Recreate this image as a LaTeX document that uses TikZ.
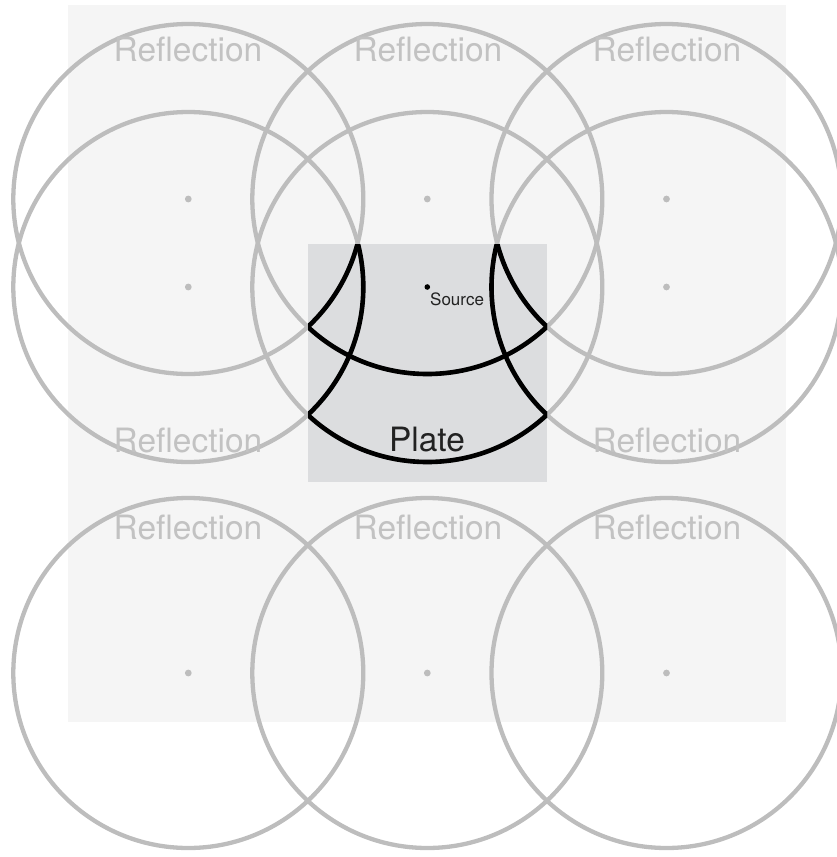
\documentclass[tikz,border=0pt]{standalone}
\usepackage{fontspec}
\setmainfont{TeX Gyre Heros}
\definecolor{bgc}{HTML}{F5F5F5}
\definecolor{platec}{HTML}{DCDDDF}
\definecolor{ringc}{HTML}{BDBDBD}
\definecolor{labc}{HTML}{C2C2C2}
\definecolor{darktext}{HTML}{222222}
\tikzset{
  ring/.style={draw=ringc, line width=4.3pt},
  edgearc/.style={draw=black, line width=4.6pt},
  refl/.style={text=labc, inner sep=0pt, anchor=base, font=\fontsize{33.5}{40}\selectfont},
  centerdot/.style={fill=ringc},
}
\begin{document}
\begin{tikzpicture}[x=1pt,y=-1pt]
\useasboundingbox (0,0) rectangle (837,857);
% background and plate
\fill[bgc] (68,5) rectangle (786,722);
\fill[platec] (308,244) rectangle (547,482);
% centres
\coordinate (a1) at (188.3,199);
\coordinate (a2) at (427.3,199);
\coordinate (a3) at (666.5,199);
\coordinate (b1) at (188.3,287);
\coordinate (src) at (427.3,287);
\coordinate (b3) at (666.5,287);
\coordinate (c1) at (188.3,673);
\coordinate (c2) at (427.3,673);
\coordinate (c3) at (666.5,673);
% grey circles
\foreach \p in {a1,a2,a3,b1,src,b3,c1,c2,c3}
  \draw[ring] (\p) circle[radius=175pt];
% labels
\node[refl] (l1) at (188,61) {Reflection};
\node[refl] (l2) at (428,61) {Reflection};
\node[refl] (l3) at (667,61) {Reflection};
\node[refl] (l4) at (188,452) {Reflection};
\node[refl] (l6) at (667,452) {Reflection};
\node[refl] (l7) at (188,539) {Reflection};
\node[refl] (l8) at (428,539) {Reflection};
\node[refl] (l9) at (667,539) {Reflection};
% black arcs inside the plate
\begin{scope}
  \clip (308,244) rectangle (547,482);
  \foreach \p in {a1,a2,a3,b1,src,b3}
    \draw[edgearc] (\p) circle[radius=175pt];
\end{scope}
% plate label
\node[text=darktext, inner sep=0pt, anchor=base, font=\fontsize{33.5}{40}\selectfont] (plate) at (427,451) {Plate};
% dots
\foreach \p in {a1,a2,a3,b1,b3,c1,c2,c3}
  \fill[centerdot] (\p) circle[radius=3.4pt];
\fill[black] (src) circle[radius=2.8pt];
\node[text=darktext, inner sep=0pt, anchor=base west, font=\fontsize{17}{20}\selectfont] (srclab) at (430,305) {Source};
\end{tikzpicture}
\end{document}
